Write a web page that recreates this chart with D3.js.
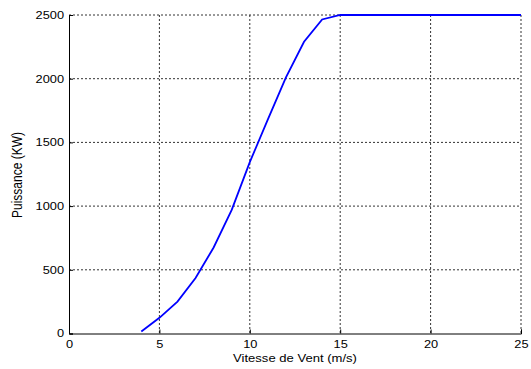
<!DOCTYPE html>
<html>
<head>
<meta charset="utf-8">
<script src="https://cdn.jsdelivr.net/npm/d3@7"></script>
<style>
  body { margin: 0; background: #fff; }
  text { font-family: "Liberation Sans", Arial, sans-serif; }
</style>
</head>
<body>
<script>
// Wind turbine power curve
var vitesse = [4, 5, 6, 7, 8, 9, 10, 11, 12, 13, 14, 15, 16, 17, 18, 19, 20, 21, 22, 23, 24, 25];
var puissance = [15, 123, 250, 435, 675, 970, 1345, 1680, 2010, 2290, 2465, 2500, 2500, 2500, 2500, 2500, 2500, 2500, 2500, 2500, 2500, 2500];
var xticks = [0, 5, 10, 15, 20, 25];
var yticks = [0, 500, 1000, 1500, 2000, 2500];

var width = 531, height = 369;
// plot box (avoid "top" : it is window.top)
var x0 = 69, x1 = 521, y0 = 333.5, y1 = 15;
var sx = 1.22; // the picture's text is wider than tall

var svg = d3.select("body").append("svg")
  .attr("width", width)
  .attr("height", height);

var x = d3.scaleLinear().domain([0, 25]).range([x0, x1]);
var y = d3.scaleLinear().domain([0, 2500]).range([y0, y1]);

// grid
svg.append("g").selectAll("line")
    .data(xticks.slice(1)).enter()
  .append("line")
    .attr("x1", function(d) { return x(d); })
    .attr("x2", function(d) { return x(d); })
    .attr("y1", y1).attr("y2", y0)
    .attr("stroke", "#333").attr("stroke-width", 1)
    .attr("stroke-dasharray", "2,2");
svg.append("g").selectAll("line")
    .data(yticks.slice(1)).enter()
  .append("line")
    .attr("x1", x0).attr("x2", x1)
    .attr("y1", function(d) { return y(d); })
    .attr("y2", function(d) { return y(d); })
    .attr("stroke", "#333").attr("stroke-width", 1)
    .attr("stroke-dasharray", "2,2");

// axes
var xAxis = svg.append("g")
  .attr("transform", "translate(0," + y0 + ")")
  .call(d3.axisBottom(x).tickValues(xticks).tickFormat(d3.format("d")).tickSize(-4).tickPadding(7));
var yAxis = svg.append("g")
  .attr("transform", "translate(" + x0 + ",0)")
  .call(d3.axisLeft(y).tickValues(yticks).tickFormat(d3.format("d")).tickSize(-4).tickPadding(5));
[xAxis, yAxis].forEach(function(a) {
  a.select(".domain").attr("stroke", "#000");
  a.selectAll(".tick line").attr("stroke", "#000");
  a.selectAll("text")
    .attr("fill", "#000")
    .style("font-size", "10.5px")
    .style("font-family", "'Liberation Sans', Arial, sans-serif")
    .attr("transform", "scale(" + sx + ",1)");
});
yAxis.selectAll("text").attr("x", -5 / sx);

// curve
var line = d3.line()
  .x(function(d, i) { return x(vitesse[i]); })
  .y(function(d) { return y(d); });
svg.append("path")
  .datum(puissance)
  .attr("d", line)
  .attr("fill", "none")
  .attr("stroke", "#0000ff")
  .attr("stroke-width", 1.8);

// labels
svg.append("text")
  .attr("transform", "translate(" + ((x0 + x1) / 2) + ",362) scale(1.245,1)")
  .attr("text-anchor", "middle")
  .style("font-size", "10.5px")
  .text("Vitesse de Vent (m/s)");
svg.append("text")
  .attr("transform", "translate(22,175) rotate(-90) scale(1,1.2)")
  .attr("text-anchor", "middle")
  .style("font-size", "12px")
  .text("Puissance (KW)");
</script>
</body>
</html>
